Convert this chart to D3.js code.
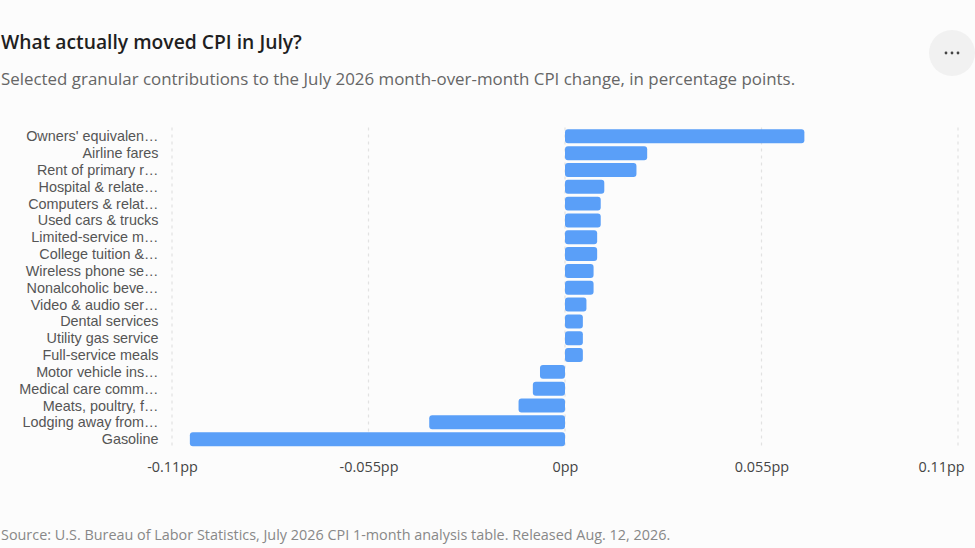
<!DOCTYPE html>
<html>
<head>
<meta charset="utf-8">
<script src="https://cdn.jsdelivr.net/npm/d3@7"></script>
<style>
  body { margin: 0; background: #fcfcfc; }
  svg { display: block; font-family: "Open Sans", "Noto Sans", sans-serif; }
</style>
</head>
<body>
<svg id="chart"></svg>
<script>
var WIDTH = 975;
var HEIGHT = 548;

// values in percentage points
var categories = [
    "Owners' equivalen\u2026",
    "Airline fares",
    "Rent of primary r\u2026",
    "Hospital & relate\u2026",
    "Computers & relat\u2026",
    "Used cars & trucks",
    "Limited-service m\u2026",
    "College tuition &\u2026",
    "Wireless phone se\u2026",
    "Nonalcoholic beve\u2026",
    "Video & audio ser\u2026",
    "Dental services",
    "Utility gas service",
    "Full-service meals",
    "Motor vehicle ins\u2026",
    "Medical care comm\u2026",
    "Meats, poultry, f\u2026",
    "Lodging away from\u2026",
    "Gasoline"
];
var contributions = [
    0.067, 0.023, 0.020, 0.011, 0.010, 0.010, 0.009, 0.009, 0.008, 0.008,
    0.006, 0.005, 0.005, 0.005, -0.007, -0.009, -0.013, -0.038, -0.105
];
var tickValues = [-0.11, -0.055, 0, 0.055, 0.11];
var tickLabels = ["-0.11pp", "-0.055pp", "0pp", "0.055pp", "0.11pp"];

var PLOT = { left: 172, right: 958, top: 126.5, bottom: 449 };

function main() {
    var svg = d3.select("#chart")
        .attr("width", WIDTH)
        .attr("height", HEIGHT);

    addHeader(svg);

    var x = d3.scaleLinear()
        .domain([-0.11, 0.11])
        .range([PLOT.left, PLOT.right]);
    var y = d3.scaleBand()
        .domain(categories)
        .range([PLOT.top, PLOT.bottom])
        .padding(0.168);

    // dotted vertical grid
    svg.append("g")
        .selectAll("line")
        .data(tickValues)
        .enter().append("line")
        .attr("x1", function(d) { return x(d); })
        .attr("x2", function(d) { return x(d); })
        .attr("y1", PLOT.top + 1)
        .attr("y2", PLOT.bottom - 3)
        .attr("stroke", "#e2e2e2")
        .attr("stroke-width", 1.2)
        .attr("stroke-dasharray", "3,4");

    var rows = categories.map(function(c, i) {
        return { name: c, value: contributions[i] };
    });

    svg.append("g")
        .selectAll("rect")
        .data(rows)
        .enter().append("rect")
        .attr("x", function(d) { return x(Math.min(0, d.value)); })
        .attr("y", function(d) { return y(d.name); })
        .attr("width", function(d) { return Math.abs(x(d.value) - x(0)); })
        .attr("height", y.bandwidth())
        .attr("rx", 3)
        .attr("fill", "#5a9ff8");

    // category labels (tighter font so the rows don't collide)
    svg.append("g")
        .selectAll("text")
        .data(rows)
        .enter().append("text")
        .attr("x", 158.5)
        .attr("y", function(d) { return y(d.name) + y.bandwidth() / 2; })
        .attr("dy", "0.35em")
        .attr("text-anchor", "end")
        .attr("font-family", "Liberation Sans, Arial, sans-serif")
        .attr("font-size", 14.4)
        .attr("fill", "#555")
        .text(function(d) { return d.name; });

    // x axis labels, no domain line
    var axis = svg.append("g")
        .attr("transform", "translate(0," + 467 + ")")
        .call(d3.axisBottom(x)
            .tickValues(tickValues)
            .tickSize(0)
            .tickPadding(0)
            .tickFormat(function(d, i) { return tickLabels[i]; }));
    axis.select(".domain").remove();
    axis.selectAll("text")
        .attr("y", 0)
        .attr("dy", "0.35em")
        .attr("font-family", "Open Sans, Noto Sans, sans-serif")
        .attr("font-size", 14.4)
        .attr("fill", "#444");
    // keep the last label inside the frame
    axis.selectAll(".tick").filter(function(d) { return d === 0.11; })
        .select("text")
        .attr("text-anchor", "end")
        .attr("x", 6);

    svg.append("text")
        .attr("x", 1)
        .attr("y", 540)
        .attr("font-size", 14.4)
        .attr("fill", "#888")
        .text("Source: U.S. Bureau of Labor Statistics, July 2026 CPI 1-month analysis table. Released Aug. 12, 2026.");
}

function addHeader(svg) {
    svg.append("text")
        .attr("x", 1)
        .attr("y", 49)
        .attr("font-size", 19.3)
        .attr("font-weight", 600)
        .attr("fill", "#1f1f1f")
        .text("What actually moved CPI in July?");

    svg.append("text")
        .attr("x", 1)
        .attr("y", 85)
        .attr("font-size", 16.9)
        .attr("fill", "#666")
        .text("Selected granular contributions to the July 2026 month-over-month CPI change, in percentage points.");

    // "more" button
    var btn = svg.append("g").attr("transform", "translate(952,53)");
    btn.append("circle")
        .attr("r", 23)
        .attr("fill", "#f1f1f1");
    btn.selectAll(".dot")
        .data([-6, 0, 6])
        .enter().append("circle")
        .attr("cx", function(d) { return d; })
        .attr("cy", 0)
        .attr("r", 1.4)
        .attr("fill", "#444");
}

main();
</script>
</body>
</html>
